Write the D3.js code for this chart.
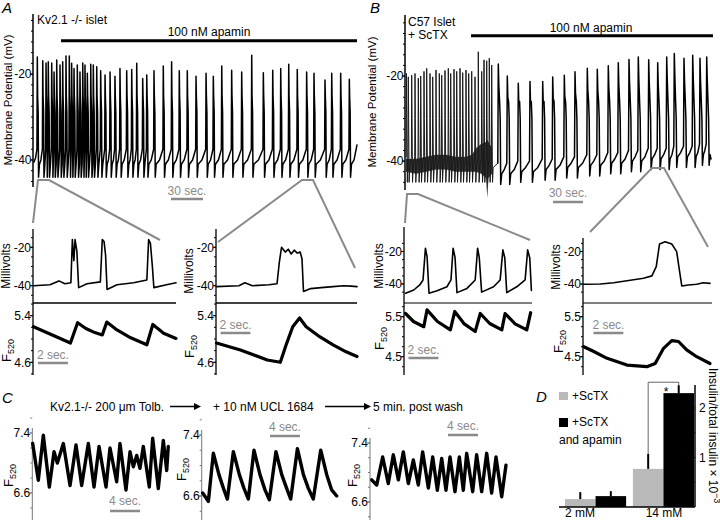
<!DOCTYPE html>
<html><head><meta charset="utf-8">
<script src="https://cdn.jsdelivr.net/npm/d3@7"></script>
<style>body{margin:0;background:#fff}</style>
</head><body>
<script>
// ---------------- DATA ----------------
// Panel A main trace (Kv2.1-/- islet): spike times (s) and peak potentials (mV)
const aSpikeT = [3.1,8.2,11.3,13.4,16.6,18.8,21.3,24.4,26.9,30,33.1,35.3,37.5,40.6,43.1,45.7,47.8,50,53.2,55.6,58.8,62.5,66.6,71.3,75.9,80.6,86.9,91.6,96.3,101.9,105.7,112.5,121.2,129,136.2,143.7,151.9,161.3,168.1,176,185.3,194.7,204.1,215,223.8,231.3,238.8,246.8,255.6,262.5,272.8,279.1,287.5,295.6];
const aSpikeP = [-16.0,-16.9,-17.4,-17.1,-17.4,-19.5,-16.7,-17.9,-17.1,-15.8,-15.8,-17.5,-18.7,-17.9,-19.5,-17.4,-17.9,-19.8,-17.7,-17.9,-18.3,-19.2,-20.2,-19.5,-20.5,-18.7,-19.2,-18.9,-17.5,-21.0,-20.2,-19.2,-18.1,-17.1,-19.2,-19.2,-20.5,-19.8,-20.5,-18.1,-19.1,-19.5,-15.6,-19.7,-19.1,-18.7,-17.7,-18.9,-19.5,-19.8,-21.4,-19.8,-19.8,-21.2];
const aLevels = {pre:-37.5, trough:-44, mid:-40, end:302.8};
const aApaminStart = 25.3;
// Panel B main trace (C57 islet + ScTX)
const bDenseT = [0.5,2.3,5.7,9,12.3,14.7,18,20.7,24,26.7,30,33.3,35.7,39,42.3,44.7,48,50.7,54,56.7,60,62.7,65.7,69,72.3,75.7,78,80.7,83.3,85.7];
const bDenseP = [-19.4,-20.2,-19.8,-19.4,-20.5,-20,-18.9,-18.2,-19.4,-20.2,-18.6,-19.4,-19.8,-18.7,-18.2,-19.4,-18.4,-18.9,-18.2,-19.2,-18.6,-19.4,-18.9,-20.2,-14.3,-18.9,-16.2,-16.4,-15.8,-17.4];
const bBand = [[0,-42.5,-39.5],[10,-43,-39.5],[20,-42.5,-39],[30,-42,-38.5],[40,-42,-38.5],[50,-42.5,-39],[60,-42.5,-39],[66,-42.5,-38.5],[70,-42.5,-37],[75,-43,-36],[80,-44,-35.5],[81.3,-48.7,-35],[82.5,-44,-35.5],[86,-43,-37]];
const bSpikeT = [92.3,101.3,112.3,124,136.7,146.7,158.3,169,181.3,191.3,202.3,212.3,223,232.3,242.7,251.7,260.7,268.3,278,286.7,294,300.7];
const bSpikeP = [-17.2,-20,-21.7,-21.3,-21.3,-20.2,-19.8,-19,-18.2,-18.4,-17.6,-16.9,-16.1,-15.5,-16.2,-16.9,-15.5,-14.7,-15.8,-15.1,-15.8,-15.5];
const bTrough = [-45.5,-45.5,-45,-45,-44.5,-44.5,-44,-44,-43.5,-43.5,-43,-43,-42.5,-42.5,-42,-42,-42,-41.5,-41.5,-41.5,-41,-41];
const bApaminStart = 65;
// zoomed sub-panels: [time s, value]
const aLeftMv = [[0,-40],[1.1,-39.5],[1.7,-37.5],[2.1,-39],[2.5,-38.5],[2.6,-16],[2.7,-27],[2.78,-16],[2.9,-22],[3.02,-41],[3.58,-39],[4.47,-38],[4.6,-16],[4.72,-17],[4.82,-24],[4.92,-42],[5.58,-39.5],[6.69,-38.5],[7.58,-37],[7.7,-16],[7.82,-18],[7.95,-30],[8.05,-41],[8.9,-39.5],[9.53,-38.5]];
const aLeftF = [[0,5.21],[0.8,5.12],[1.6,5.03],[2.47,4.93],[2.7,5.1],[2.95,5.28],[3.5,5.18],[4.1,5.11],[4.6,5.07],[4.9,5.29],[5.5,5.17],[6.5,5.02],[7.58,4.9],[7.98,5.25],[8.7,5.1],[9.53,5.01]];
const aRightMv = [[0,-40.5],[1.5,-40],[1.9,-38.5],[2.4,-40],[3.5,-39.5],[4.05,-39],[4.2,-28],[4.35,-20],[4.6,-22.5],[4.8,-21],[5.0,-23.5],[5.2,-21.5],[5.4,-23],[5.6,-22.5],[5.72,-26],[5.82,-43],[6.3,-41.5],[7.0,-41],[7.8,-40.5],[8.5,-40],[9.0,-40.2],[9.4,-40.5]];
const aRightF = [[0,4.93],[1.6,4.81],[3.4,4.64],[4.27,4.6],[4.7,4.93],[5.1,5.21],[5.56,5.36],[6.0,5.21],[6.9,5.04],[7.8,4.9],[8.67,4.78],[9.4,4.7]];
const bLeftMv = [[0.07,-45.7],[0.62,-43.7],[1.02,-40.6],[1.24,-37.5],[1.4,-18],[1.51,-23.2],[1.64,-45.7],[2.18,-44.1],[2.84,-41.7],[3.11,-37.5],[3.25,-18],[3.38,-23.6],[3.51,-45.3],[4.18,-42.7],[4.73,-37.5],[4.89,-18],[5.0,-23.6],[5.16,-45],[5.96,-41.7],[6.4,-37.5],[6.58,-19],[6.71,-24],[6.84,-45.3],[7.51,-41.7],[8.07,-37.5],[8.24,-19],[8.38,-24],[8.49,-44]];
const bLeftF = [[0.07,5.58],[0.6,5.38],[1.29,5.25],[1.51,5.67],[2.2,5.38],[3.07,5.17],[3.36,5.63],[4.0,5.32],[4.73,5.13],[5.07,5.58],[5.7,5.33],[6.51,5.17],[6.73,5.58],[7.4,5.32],[8.18,5.17],[8.44,5.6]];
const bRightMv = [[0.02,-40.2],[1.13,-40],[2.02,-39.2],[2.91,-38],[4.02,-36.5],[4.58,-35],[4.87,-29.3],[5.09,-15.4],[5.47,-14],[5.91,-15.4],[6.24,-20.1],[6.42,-31.4],[6.58,-41.2],[7.02,-40.6],[7.58,-40.2],[8.02,-39.2],[8.47,-39.6]];
const bRightF = [[0.02,4.75],[0.69,4.63],[1.58,4.46],[2.91,4.29],[4.24,4.25],[4.8,4.33],[5.36,4.71],[5.91,4.9],[6.36,4.88],[6.91,4.67],[7.58,4.5],[8.47,4.33]];
// Panel C: F520 traces
const cTolb = [[0.05,7.26],[0.8,6.77],[1.47,7.37],[2.27,6.68],[2.9,7.15],[3.34,7.0],[4.14,7.26],[5.03,6.7],[5.83,7.24],[6.58,6.7],[7.47,7.26],[8.23,6.68],[8.9,7.22],[9.83,6.68],[10.36,7.2],[11.25,6.75],[11.69,7.26],[12.49,6.64],[13.03,7.15],[13.47,6.95],[13.92,7.1],[14.36,6.93],[14.8,7.22],[15.6,6.68],[16.05,7.33],[16.8,6.66],[17.47,7.3],[17.92,6.9],[18.13,7.22]];
const cUcl = [[0.13,6.64],[0.89,6.53],[1.55,7.16],[2.3,6.88],[2.9,6.7],[3.42,6.56],[4.22,7.18],[5.02,6.88],[5.64,6.7],[6.22,6.56],[6.97,7.2],[7.77,6.88],[8.44,6.68],[9.02,6.55],[9.9,7.18],[10.67,6.88],[11.33,6.7],[11.87,6.56],[12.76,7.22],[13.56,6.88],[14.22,6.7],[14.88,6.56],[15.87,7.2],[16.67,6.88],[17.33,6.68],[18.0,6.6]];
const cWash = [[0.22,6.9],[0.89,6.83],[1.69,7.21],[2.44,6.85],[3.11,7.24],[3.78,6.9],[4.44,7.28],[5.11,6.85],[5.78,7.17],[6.44,6.83],[7.02,7.28],[7.78,6.79],[8.36,7.21],[8.98,6.76],[9.56,7.19],[10.13,6.76],[10.67,7.21],[11.33,6.74],[11.91,7.21],[12.44,6.76],[12.89,7.26],[13.69,6.74],[14.22,7.24],[14.89,6.74],[15.56,7.26],[16.22,6.72],[16.8,7.21],[17.56,6.67],[18.13,7.1]];
// Panel D: insulin secretion
const dCats = ['2 mM','14 mM'];
const dSeries = ['+ScTX','+ScTX and apamin'];
const dScTX = [0.16, 0.77];
const dScTXErr = [0.14, 0.30];
const dApamin = [0.22, 2.30];
const dApaminErr = [0.10, 0.16];
const dTicks = [1, 2];
const mvTicks = [-20, -40];
const fTicksA = [5.4, 4.6];
const fTicksB = [5.5, 4.5];
const fTicksC = [7.4, 6.6];

// ---------------- DRAWING ----------------
const FONT = '"Liberation Sans", Arial, Helvetica, sans-serif';
const GRAY = '#8a8a8a';
const svg = d3.select('body').append('svg').attr('width',720).attr('height',520)
  .style('font-family',FONT);
svg.append('rect').attr('width',720).attr('height',520).attr('fill','#fff');

function path(g, data, xs, ys, w, color){
  return g.append('path').datum(data)
    .attr('d', d3.line().x(d=>xs(d[0])).y(d=>ys(d[1])))
    .attr('fill','none').attr('stroke',color||'#000').attr('stroke-width',w)
    .attr('stroke-linejoin','round').attr('stroke-linecap','round');
}
function text(g, x, y, s, size, opts={}){
  const t = g.append('text').attr('x',x).attr('y',y).attr('font-size',size).text(s)
    .attr('fill',opts.fill||'#000').attr('text-anchor',opts.anchor||'start');
  if(opts.italic) t.attr('font-style','italic');
  return t;
}
function vtext(g, x, y, s, size, anchor){
  return g.append('text').attr('transform',`translate(${x},${y}) rotate(-90)`)
    .attr('font-size',size).attr('text-anchor',anchor||'middle').text(s);
}
function fLabel(g, x, y){
  const t = g.append('text').attr('transform',`translate(${x},${y}) rotate(-90)`).attr('font-size',13);
  t.append('tspan').text('F');
  t.append('tspan').attr('font-size',9).attr('dy',3).text('520');
}
function vline(g, x, y1, y2, w, color){
  g.append('line').attr('x1',x).attr('x2',x).attr('y1',y1).attr('y2',y2)
    .attr('stroke',color||'#000').attr('stroke-width',w||1.2);
}
function ticks(g, x, scale, major, minor, color, labelX){
  color = color||'#000';
  g.append('g').selectAll('line').data(minor).join('line')
    .attr('x1',x-2).attr('x2',x).attr('y1',d=>scale(d)).attr('y2',d=>scale(d))
    .attr('stroke',color).attr('stroke-width',1);
  g.append('g').selectAll('line').data(major).join('line')
    .attr('x1',x-3).attr('x2',x).attr('y1',d=>scale(d)).attr('y2',d=>scale(d))
    .attr('stroke',color).attr('stroke-width',1);
  g.append('g').selectAll('text').data(major).join('text')
    .attr('x',labelX).attr('y',d=>scale(d)).attr('dy','0.36em')
    .attr('text-anchor','end').attr('font-size',12).text(d=>String(d));
}
function scaleBar(g, xs, t0, dur, y, label, ty){
  g.append('line').attr('x1',xs(t0)).attr('x2',xs(t0+dur)).attr('y1',y).attr('y2',y)
    .attr('stroke',GRAY).attr('stroke-width',2.5);
  text(g,(xs(t0)+xs(t0+dur))/2, ty, label, 12, {fill:GRAY, anchor:'middle'});
}

// ===== Panel A main =====
const gA = svg.append('g');
const xA = d3.scaleLinear().domain([0,302.8]).range([34,357]);
const yA = d3.scaleLinear().domain([-46.3,-6]).range([187,14]);
function trainA(){
  const pts=[[0,-40.5],[1.5,-39.5]];
  aSpikeT.forEach((t,i)=>{
    const next = i<aSpikeT.length-1 ? aSpikeT[i+1] : aLevels.end;
    pts.push([t-0.35,aLevels.pre],[t,aSpikeP[i]],[t+0.3,-25],[t+0.8,-29],[t+1.15,aLevels.trough]);
    if(next-0.35 > t+2.0) pts.push([t+2.0, aLevels.trough+3]);
    if(next-0.35 > t+4.0) pts.push([(t+2.0+next-0.35)/2, aLevels.mid]);
  });
  pts.push([aLevels.end,-36.5]);
  return pts;
}
vline(gA, 33, 14, 187, 1.5);
ticks(gA, 33, yA, mvTicks, d3.range(-45,-6,2.5), '#000', 31.5);
path(gA, trainA(), xA, yA, 1.5);
gA.append('line').attr('x1',xA(aApaminStart)).attr('x2',xA(302.8)).attr('y1',40.7).attr('y2',40.7)
  .attr('stroke','#000').attr('stroke-width',3);
text(gA, 209, 36, '100 nM apamin', 12, {anchor:'middle'});
text(gA, 37, 24, 'Kv2.1 -/- islet', 12);
text(gA, 2, 13, 'A', 15, {italic:true});
vtext(gA, 11.5, 100, 'Membrane Potential (mV)', 11.5);
scaleBar(gA, xA, 128.4, 30, 199, '30 sec.', 195);

// ===== Panel B main =====
const gB = svg.append('g');
const xB = d3.scaleLinear().domain([0,305]).range([406,711]);
const yB = d3.scaleLinear().domain([-46.8,-5.65]).range([190,15]);
function trainBDense(){
  const pts=[];
  bDenseT.forEach((t,i)=>{
    const next = i<bDenseT.length-1 ? bDenseT[i+1] : bSpikeT[0];
    pts.push([t-0.3,-39],[t,bDenseP[i]],[t+0.35,-30],[t+0.8,-45]);
    if(next-0.3 > t+1.5) pts.push([t+1.5,-41.5]);
  });
  pts.push([bSpikeT[0]-0.5, bTrough[0]+5]);
  return pts;
}
function trainBAfter(){
  const pts=[];
  bSpikeT.forEach((t,i)=>{
    const tr = bTrough[i];
    const next = i<bSpikeT.length-1 ? bSpikeT[i+1] : 305;
    pts.push([t-0.5,tr+5],[t,bSpikeP[i]],[t+0.5,bSpikeP[i]-5],[t+1.3,-26],[t+1.9,-30],[t+2.4,tr],[t+3.4,tr+2.5]);
    if(next-0.5 > t+6) pts.push([(t+3.4+next-0.5)/2, tr+3.5]);
  });
  pts.push([305,-39.5]);
  return pts;
}
vline(gB, 405, 15, 190, 1.5);
ticks(gB, 405, yB, mvTicks, d3.range(-45,-6,2.5), '#000', 403.5);
gB.append('path').datum(bBand)
  .attr('d', d3.area().x(d=>xB(d[0])).y0(d=>yB(d[1])).y1(d=>yB(d[2])))
  .attr('fill','#000').attr('fill-opacity',0.8);
path(gB, trainBDense(), xB, yB, 1.0, '#1a1a1a');
path(gB, trainBAfter(), xB, yB, 1.5);
gB.append('line').attr('x1',xB(bApaminStart)).attr('x2',713).attr('y1',35.7).attr('y2',35.7)
  .attr('stroke','#000').attr('stroke-width',3);
text(gB, 591, 32, '100 nM apamin', 12, {anchor:'middle'});
text(gB, 408, 26, 'C57 Islet', 12);
text(gB, 408, 39, '+ ScTX', 12);
text(gB, 370, 13, 'B', 15, {italic:true});
vtext(gB, 375.5, 102, 'Membrane Potential (mV)', 11.5);
scaleBar(gB, xB, 147, 30, 202, '30 sec.', 197);

// ===== connectors =====
const gConn = svg.append('g').attr('fill','none').attr('stroke',GRAY).attr('stroke-width',2);
gConn.append('path').attr('d','M33,223 L38,180 L49,180 L160,240');
gConn.append('path').attr('d','M218,242 L302,180 L313,180 L355,268');
gConn.append('path').attr('d','M405,223 L407,194 L418,194 L530,240');
gConn.append('path').attr('d','M590,232 L652,168 L664,168 L708,247');

// ===== sub panels =====
function subPanel(cfg){
  const g = svg.append('g');
  const xs = d3.scaleLinear().domain([0,cfg.dur]).range([cfg.ax+0.5, cfg.xEnd]);
  const ym = d3.scaleLinear().domain([-40,-20]).range(cfg.mvY);
  const yf = d3.scaleLinear().domain([cfg.fTicks[1],cfg.fTicks[0]]).range(cfg.fY);
  vline(g, cfg.ax, cfg.top, 375, 1.3);
  g.append('line').attr('x1',cfg.ax).attr('x2',cfg.divEnd).attr('y1',303).attr('y2',303)
    .attr('stroke','#000').attr('stroke-width',cfg.divW);
  ticks(g, cfg.ax, ym, mvTicks, cfg.mvMinor, '#000', cfg.ax-2);
  ticks(g, cfg.ax, yf, cfg.fTicks, cfg.fMinor, '#000', cfg.ax-2);
  path(g, cfg.mv, xs, ym, 1.6);
  path(g, cfg.f, xs, yf, 3.2);
  vtext(g, cfg.mvLabel[0], cfg.mvLabel[1], 'Millivolts', 12);
  fLabel(g, cfg.fLabel[0], cfg.fLabel[1]);
  scaleBar(g, xs, cfg.bar[0], 2, cfg.bar[1], '2 sec.', cfg.bar[2]);
}
subPanel({ax:33, xEnd:176, dur:9.53, top:229, divEnd:176, divW:1.6, mvY:[285.7,247.3], fY:[362.3,315.7], fTicks:fTicksA,
  mvMinor:d3.range(-45,-14,5), fMinor:d3.range(4.4,5.61,0.2), mv:aLeftMv, f:aLeftF,
  mvLabel:[10,266], fLabel:[11,362], bar:[0.3,363,359]});
subPanel({ax:216, xEnd:357, dur:9.4, top:229, divEnd:357, divW:1.6, mvY:[285.7,247.3], fY:[362.3,315.7], fTicks:fTicksA,
  mvMinor:d3.range(-45,-14,5), fMinor:d3.range(4.4,5.61,0.2), mv:aRightMv, f:aRightF,
  mvLabel:[193,271], fLabel:[194,358], bar:[0.27,333,329]});
subPanel({ax:404, xEnd:532, dur:8.53, top:227, divEnd:532, divW:1.1, mvY:[284,251.5], fY:[356.7,316.7], fTicks:fTicksB,
  mvMinor:d3.range(-45,-14,5), fMinor:d3.range(4.25,5.76,0.25), mv:bLeftMv, f:bLeftF,
  mvLabel:[383,266], fLabel:[384,350], bar:[0.27,358,354]});
subPanel({ax:583, xEnd:710, dur:8.47, top:238, divEnd:712, divW:1.1, mvY:[284,251.5], fY:[356.7,316.7], fTicks:fTicksB,
  mvMinor:d3.range(-45,-14,5), fMinor:d3.range(4.25,5.76,0.25), mv:bRightMv, f:bRightF,
  mvLabel:[560,267], fLabel:[563,353], bar:[0.67,333,329]});

// ===== Panel C =====
const gC = svg.append('g');
text(gC, 2, 403, 'C', 15, {italic:true});
text(gC, 50, 411, 'Kv2.1-/- 200 \u03bcm Tolb.', 12);
text(gC, 213, 411, '+ 10 nM UCL 1684', 12);
text(gC, 373, 411, '5 min. post wash', 12);
function arrow(g, x1, x2, y){
  g.append('line').attr('x1',x1).attr('x2',x2-5).attr('y1',y).attr('y2',y).attr('stroke','#000').attr('stroke-width',1.5);
  g.append('path').attr('d',`M${x2},${y} L${x2-7},${y-3.5} L${x2-7},${y+3.5} Z`).attr('fill','#000');
}
arrow(gC, 170, 201, 406.5);
arrow(gC, 325, 371, 406.5);
function cPanel(ax, y74, y66, data, fl, bar){
  const xs = d3.scaleLinear().domain([0,18.2]).range([ax, ax+136.5]);
  const ys = d3.scaleLinear().domain([6.6,7.4]).range([y66,y74]);
  vline(gC, ax, y74-5, 520, 1, '#777');
  ticks(gC, ax, ys, fTicksC, d3.range(6.4,7.61,0.2), '#777', ax-2);
  path(gC, data, xs, ys, 3.4);
  fLabel(gC, fl[0], fl[1]);
  scaleBar(gC, xs, bar[0], 4, bar[1], '4 sec.', bar[2]);
}
cPanel(32.3, 433, 493, cTolb, [13,487], [10.36,511,505]);
cPanel(201.7, 435, 496, cUcl, [186,481], [9.1,436,431]);
cPanel(370, 443, 502, cWash, [357,487], [10.4,435,430]);

// ===== Panel D =====
const gD = svg.append('g');
text(gD, 536, 402, 'D', 15, {italic:true});
const yD = d3.scaleLinear().domain([0,2.45]).range([507,385.7]);
const x0 = d3.scaleBand().domain(dCats).range([565,694]).paddingInner(0.1);
const x1 = d3.scaleBand().domain(dSeries).range([0,x0.bandwidth()]);
const colors = d3.scaleOrdinal().domain(dSeries).range(['#b9b9b9','#000']);
const rows = [];
dCats.forEach((c,i)=>{
  rows.push({cat:c, s:dSeries[0], v:dScTX[i], e:dScTXErr[i]});
  rows.push({cat:c, s:dSeries[1], v:dApamin[i], e:dApaminErr[i]});
});
gD.selectAll('rect.bar').data(rows).join('rect').attr('class','bar')
  .attr('x',d=>x0(d.cat)+x1(d.s)).attr('width',x1.bandwidth())
  .attr('y',d=>yD(d.v)).attr('height',d=>yD(0)-yD(d.v)).attr('fill',d=>colors(d.s));
gD.selectAll('line.err').data(rows).join('line').attr('class','err')
  .attr('x1',d=>x0(d.cat)+x1(d.s)+x1.bandwidth()/2).attr('x2',d=>x0(d.cat)+x1(d.s)+x1.bandwidth()/2)
  .attr('y1',d=>yD(d.v)).attr('y2',d=>yD(d.v+d.e)).attr('stroke','#000').attr('stroke-width',2);
// baseline & axis
gD.append('line').attr('x1',559).attr('x2',695).attr('y1',yD(0)).attr('y2',yD(0)).attr('stroke','#000').attr('stroke-width',1.5);
vline(gD, 695, 385, yD(0), 1.5);
gD.selectAll('line.dt').data([0.5,1,1.5,2]).join('line').attr('class','dt')
  .attr('x1',692).attr('x2',695).attr('y1',d=>yD(d)).attr('y2',d=>yD(d)).attr('stroke','#000');
gD.selectAll('text.dt').data(dTicks).join('text').attr('class','dt')
  .attr('x',699).attr('y',d=>yD(d)).attr('dy','0.36em').attr('font-size',12).text(d=>String(d));
const lab = gD.append('text').attr('transform','translate(708.5,368) rotate(90)').attr('font-size',12);
lab.append('tspan').text('Insulin/total insulin \u00d7 10');
lab.append('tspan').attr('font-size',9).attr('dy',-5).text('\u22123');
// category labels
const xl = d3.scalePoint().domain(dCats).range([580,664]);
gD.selectAll('text.cat').data(dCats).join('text').attr('class','cat')
  .attr('x',d=>xl(d)).attr('y',517).attr('text-anchor','middle').attr('font-size',12).text(d=>d);
// significance bracket
const bxL = x0(dCats[1])+x1(dSeries[0])+x1.bandwidth()/2;
const bxR = x0(dCats[1])+x1(dSeries[1])+x1.bandwidth()/2;
gD.append('path').attr('d',`M${bxL},${yD(dScTX[1]+dScTXErr[1])} L${bxL},${yD(2.52)} L${bxR},${yD(2.52)} L${bxR},${yD(dApamin[1]+dApaminErr[1])}`)
  .attr('fill','none').attr('stroke','#666').attr('stroke-width',1);
text(gD, 666, 396, '*', 12, {anchor:'middle'});
// legend
gD.append('rect').attr('x',559).attr('y',392).attr('width',9).attr('height',8).attr('fill',colors(dSeries[0]));
text(gD, 572, 400, '+ScTX', 12);
gD.append('rect').attr('x',559).attr('y',418).attr('width',9).attr('height',9).attr('fill',colors(dSeries[1]));
text(gD, 572, 426, '+ScTX', 12);
text(gD, 559, 444, 'and apamin', 12);
</script>
</body></html>
